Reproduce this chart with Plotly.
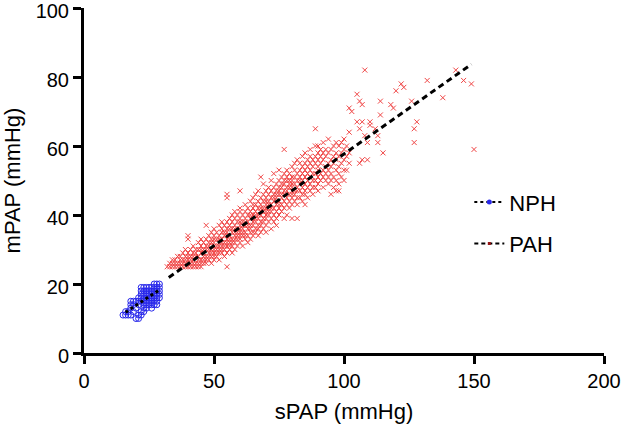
import plotly.graph_objects as go

# ---------------- data ----------------
# NPH group: sPAP (x) and mPAP (y), mmHg
nph_spap = [
    15,
    16, 16,
    17, 17,
    18, 18, 18, 18,
    19, 19, 19,
    20, 20, 20,
    21, 21, 21, 21, 21,
    22, 22, 22, 22, 22, 22, 22,
    23, 23, 23, 23, 23, 23, 23, 23,
    24, 24, 24, 24, 24, 24, 24,
    25, 25, 25, 25, 25, 25,
    26, 26, 26, 26, 26, 26, 26,
    27, 27, 27, 27, 27, 27, 27,
    28, 28, 28, 28, 28, 28, 28,
    29, 29, 29, 29, 29,
]
nph_mpap = [
    11,
    11, 12,
    11, 12,
    11, 13, 14, 15,
    12, 14, 15,
    10, 13, 15,
    10, 11, 14, 15, 16,
    11, 12, 15, 16, 17, 18, 19,
    12, 13, 14, 15, 16, 17, 18, 19,
    13, 14, 15, 16, 17, 18, 19,
    14, 15, 16, 17, 18, 19,
    13, 14, 15, 16, 17, 18, 19,
    14, 15, 16, 17, 18, 19, 20,
    14, 15, 16, 17, 18, 19, 20,
    16, 17, 18, 19, 20,
]

# PAH group: sPAP (x) and mPAP (y), mmHg
pah_spap = [
    32,
    33, 33,
    34, 34, 34,
    35, 35, 35,
    36, 36, 36,
    37, 37, 37, 37,
    38, 38, 38, 38,
    39, 39, 39, 39, 39,
    40, 40, 40, 40, 40, 40, 40,
    41, 41, 41, 41, 41,
    42, 42, 42, 42, 42, 42,
    43, 43, 43, 43, 43,
    44, 44, 44, 44, 44, 44,
    45, 45, 45, 45, 45, 45, 45,
    46, 46, 46, 46, 46, 46,
    47, 47, 47, 47, 47, 47, 47,
    48, 48, 48, 48, 48, 48, 48,
    49, 49, 49, 49, 49, 49, 49,
    50, 50, 50, 50, 50, 50, 50, 50, 50,
    51, 51, 51, 51, 51, 51,
    52, 52, 52, 52, 52, 52, 52, 52,
    53, 53, 53, 53, 53, 53, 53, 53,
    54, 54, 54, 54, 54, 54, 54,
    55, 55, 55, 55, 55, 55, 55, 55, 55, 55, 55,
    56, 56, 56, 56, 56, 56, 56, 56,
    57, 57, 57, 57, 57, 57, 57, 57,
    58, 58, 58, 58, 58, 58, 58, 58, 58,
    59, 59, 59, 59, 59, 59, 59,
    60, 60, 60, 60, 60, 60, 60, 60, 60, 60, 60,
    61, 61, 61, 61, 61, 61, 61,
    62, 62, 62, 62, 62, 62, 62, 62,
    63, 63, 63, 63, 63, 63, 63,
    64, 64, 64, 64, 64, 64, 64, 64,
    65, 65, 65, 65, 65, 65, 65, 65, 65,
    66, 66, 66, 66, 66, 66, 66, 66,
    67, 67, 67, 67, 67, 67, 67, 67,
    68, 68, 68, 68, 68, 68, 68, 68, 68,
    69, 69, 69, 69, 69, 69, 69, 69,
    70, 70, 70, 70, 70, 70, 70, 70, 70, 70,
    71, 71, 71, 71, 71, 71, 71,
    72, 72, 72, 72, 72, 72, 72, 72,
    73, 73, 73, 73, 73, 73, 73, 73,
    74, 74, 74, 74, 74, 74, 74, 74,
    75, 75, 75, 75, 75, 75, 75, 75, 75,
    76, 76, 76, 76, 76, 76, 76,
    77, 77, 77, 77, 77, 77, 77, 77, 77,
    78, 78, 78, 78, 78, 78, 78, 78,
    79, 79, 79, 79, 79, 79, 79,
    80, 80, 80, 80, 80, 80, 80, 80, 80, 80,
    81, 81, 81, 81, 81, 81, 81,
    82, 82, 82, 82, 82, 82, 82, 82,
    83, 83, 83, 83, 83, 83, 83,
    84, 84, 84, 84, 84, 84, 84,
    85, 85, 85, 85, 85, 85, 85, 85,
    86, 86, 86, 86, 86, 86,
    87, 87, 87, 87, 87, 87, 87,
    88, 88, 88, 88, 88, 88,
    89, 89, 89, 89, 89, 89, 89,
    90, 90, 90, 90, 90, 90, 90, 90,
    91, 91, 91, 91, 91,
    92, 92, 92, 92, 92, 92,
    93, 93, 93, 93, 93,
    94, 94, 94, 94, 94, 94,
    95, 95, 95, 95, 95, 95,
    96, 96, 96, 96, 96,
    97, 97, 97, 97, 97, 97,
    98, 98, 98, 98, 98, 98,
    99, 99, 99, 99,
    100, 100, 100, 100, 100,
    101, 101, 101,
    102, 102, 102, 102,
    103,
    105, 105,
    106, 106, 106,
    107, 107, 107,
    108, 108,
    109, 109,
    110, 110,
    112,
    113, 113,
    114, 114,
    115,
    118,
    119,
    120,
    122,
    123,
    126,
    127, 127,
    128,
    132,
    138,
    143,
    146,
    149,
    150,
]
pah_mpap = [
    25,
    25, 26,
    25, 26, 27,
    25, 26, 27,
    25, 26, 28,
    25, 26, 27, 28,
    25, 26, 27, 29,
    25, 26, 27, 28, 30,
    25, 26, 27, 28, 29, 33, 34,
    25, 26, 27, 28, 30,
    25, 26, 27, 28, 29, 31,
    25, 26, 28, 29, 30,
    25, 26, 27, 28, 30, 32,
    25, 26, 27, 29, 30, 31, 33,
    26, 27, 28, 29, 30, 32,
    26, 27, 28, 30, 31, 33, 37,
    27, 28, 29, 30, 31, 32, 34,
    26, 28, 29, 30, 32, 33, 35,
    27, 28, 29, 30, 31, 32, 33, 34, 36,
    28, 29, 30, 31, 33, 35,
    27, 29, 30, 31, 32, 33, 34, 37,
    29, 30, 31, 32, 33, 35, 36, 38,
    28, 30, 31, 32, 34, 35, 37,
    25, 29, 31, 32, 33, 34, 35, 36, 38, 45, 46,
    30, 31, 32, 33, 34, 36, 37, 39,
    29, 31, 32, 33, 35, 36, 38, 40,
    30, 32, 33, 34, 35, 36, 37, 39, 41,
    31, 33, 34, 35, 36, 38, 40,
    32, 33, 34, 35, 36, 37, 38, 39, 41, 42, 47,
    31, 34, 35, 36, 37, 38, 40,
    33, 34, 35, 37, 38, 39, 41, 43,
    32, 34, 36, 37, 38, 40, 42,
    33, 35, 36, 37, 39, 40, 41, 44,
    34, 35, 37, 38, 39, 40, 42, 43, 45,
    35, 36, 38, 39, 40, 41, 43, 46,
    34, 36, 37, 39, 40, 42, 44, 47,
    35, 37, 38, 40, 41, 42, 43, 45, 51,
    36, 38, 39, 41, 42, 44, 46, 49,
    35, 37, 39, 40, 41, 42, 43, 44, 45, 47,
    38, 40, 41, 43, 44, 46, 48,
    36, 39, 41, 42, 43, 45, 47, 50,
    38, 40, 42, 44, 45, 46, 48, 52,
    37, 39, 41, 43, 45, 46, 47, 49,
    40, 42, 43, 44, 46, 47, 48, 50, 53,
    41, 43, 45, 46, 48, 49, 51,
    39, 42, 44, 46, 47, 49, 50, 52, 59,
    40, 43, 45, 47, 48, 50, 51, 53,
    42, 44, 46, 48, 49, 50, 52,
    39, 43, 45, 46, 47, 48, 49, 50, 51, 54,
    44, 46, 47, 49, 51, 53, 55,
    39, 43, 45, 47, 48, 50, 52, 56,
    45, 47, 49, 50, 51, 53, 55,
    44, 46, 48, 50, 52, 54, 57,
    43, 46, 47, 49, 51, 53, 55, 58,
    45, 48, 50, 52, 54, 56,
    47, 49, 51, 53, 55, 57, 59,
    46, 48, 50, 52, 54, 56,
    48, 50, 52, 55, 57, 60, 65,
    47, 49, 51, 53, 54, 56, 58, 60,
    50, 52, 55, 57, 59,
    48, 51, 53, 56, 58, 61,
    50, 52, 54, 57, 59,
    49, 51, 53, 55, 58, 62,
    46, 50, 52, 54, 56, 59,
    48, 51, 55, 57, 60,
    47, 50, 53, 56, 58, 61,
    47, 49, 52, 54, 57, 60,
    51, 55, 58, 61,
    50, 53, 56, 59, 62,
    53, 57, 60,
    55, 58, 64, 71,
    70,
    67, 75,
    55, 65, 73,
    56, 67, 72,
    63, 82,
    56, 61,
    66, 67,
    65,
    61, 63,
    69, 73,
    58,
    72,
    71,
    76,
    78,
    77,
    73,
    61, 65,
    67,
    79,
    74,
    82,
    79,
    78,
    59,
]
assert len(nph_spap) == len(nph_mpap)
assert len(pah_spap) == len(pah_mpap)

# regression lines (end points)
nph_fit_spap = [16, 29]
nph_fit_mpap = [11.8, 18.3]
pah_fit_spap = [32.6, 149]
pah_fit_mpap = [21.9, 83.7]

x_ticks = [0, 50, 100, 150, 200]
y_ticks = [0, 20, 40, 60, 80, 100]

# ---------------- figure ----------------
FONT = "Arial, 'Liberation Sans', Helvetica, sans-serif"
BLUE = "rgb(40,40,235)"
RED = "rgb(240,70,70)"

fig = go.Figure()

fig.add_trace(go.Scatter(
    x=pah_spap, y=pah_mpap, mode="markers", showlegend=False,
    marker=dict(symbol="x-thin-open", size=5, color=RED, line=dict(color=RED, width=1)),
))
fig.add_trace(go.Scatter(
    x=nph_spap, y=nph_mpap, mode="markers", showlegend=False,
    marker=dict(symbol="circle-open", size=6, color=BLUE, line=dict(color=BLUE, width=1)),
))
fig.add_trace(go.Scatter(
    x=pah_fit_spap, y=pah_fit_mpap, mode="lines", showlegend=False,
    line=dict(color="black", width=3, dash="6px,4px"),
))
fig.add_trace(go.Scatter(
    x=nph_fit_spap, y=nph_fit_mpap, mode="lines", showlegend=False,
    line=dict(color="black", width=3, dash="3px,3px"),
))

# legend entries
fig.add_trace(go.Scatter(
    x=[None], y=[None], mode="lines+markers", name="NPH", legendgroup="nph",
    line=dict(color="black", width=2, dash="dot"),
    marker=dict(symbol="circle", size=5, color=BLUE),
))
fig.add_trace(go.Scatter(
    x=[None], y=[None], mode="lines+markers", name="PAH", legendgroup="pah",
    line=dict(color="black", width=2, dash="4px,3px"),
    marker=dict(symbol="square", size=3, color="rgb(150,20,20)"),
))

axis_common = dict(
    showline=True, linewidth=3, linecolor="black",
    ticks="outside", ticklen=8, tickwidth=3, tickcolor="black",
    showgrid=False, zeroline=False, automargin=False,
    ticklabeloverflow="allow",
    tickfont=dict(family=FONT, size=20, color="black"),
)

fig.update_layout(
    width=622, height=427,
    margin=dict(l=84, r=18, t=8, b=74),
    paper_bgcolor="white", plot_bgcolor="white",
    font=dict(family=FONT, color="black"),
    xaxis=dict(range=[0, 200], tickvals=x_ticks,
               title=dict(text="sPAP (mmHg)", font=dict(family=FONT, size=22), standoff=13),
               **axis_common),
    yaxis=dict(range=[0, 100], tickvals=y_ticks, ticklabelshift=3,
               title=dict(text="mPAP (mmHg)", font=dict(family=FONT, size=22), standoff=13),
               **axis_common),
    legend=dict(x=0.741, y=0.498, xanchor="left", yanchor="top",
                font=dict(family=FONT, size=22, color="black"),
                bgcolor="rgba(0,0,0,0)", tracegroupgap=10, itemwidth=30),
)

fig.write_html(
    "out.html",
    config={"displayModeBar": False},
    post_script="document.body.style.margin='0';document.body.style.overflow='hidden';",
)
